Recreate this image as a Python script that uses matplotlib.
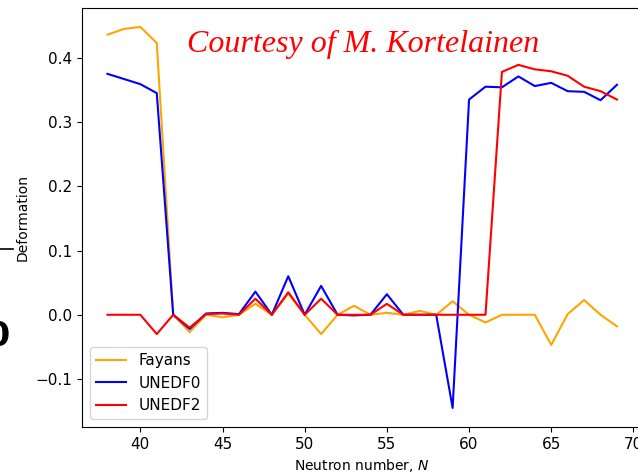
import matplotlib
matplotlib.use('Agg')
import matplotlib.pyplot as plt

# Quadrupole deformation along the isotopic chain
neutrons = list(range(38, 70))

fayans = [0.436, 0.445, 0.448, 0.423, 0.0, -0.027, 0.0, -0.004, 0.0, 0.017,
          0.0, 0.033, 0.0, -0.030, 0.0, 0.014, 0.0, 0.003, 0.0, 0.006,
          0.0, 0.021, 0.0, -0.012, 0.0, 0.0, 0.0, -0.047, 0.001, 0.023,
          0.0, -0.018]

unedf0 = [0.375, 0.367, 0.359, 0.345, 0.0, -0.022, 0.002, 0.003, 0.001, 0.036,
          0.0, 0.060, 0.0, 0.045, 0.0, -0.001, 0.0, 0.032, 0.0, 0.0,
          0.0, -0.145, 0.335, 0.355, 0.354, 0.371, 0.356, 0.361, 0.348, 0.347,
          0.334, 0.358]

unedf2 = [0.0, 0.0, 0.0, -0.030, 0.0, -0.020, 0.001, 0.002, 0.0, 0.025,
          0.0, 0.035, 0.0, 0.025, 0.0, 0.0, 0.0, 0.017, 0.0, 0.0,
          0.0, 0.0, 0.0, 0.0, 0.378, 0.389, 0.382, 0.379, 0.372, 0.355,
          0.348, 0.335]

fig = plt.figure(figsize=(6.38, 4.73), dpi=100)
ax = fig.add_axes([0.1285, 0.0973, 0.8785, 0.886])

ax.plot(neutrons, fayans, color='orange', lw=1.5, label='Fayans')
ax.plot(neutrons, unedf0, color='blue', lw=1.5, label='UNEDF0')
ax.plot(neutrons, unedf2, color='red', lw=1.5, label='UNEDF2')

ax.set_xticks([40, 45, 50, 55, 60, 65, 70])
ax.set_yticks([-0.1, 0.0, 0.1, 0.2, 0.3, 0.4])
ax.tick_params(labelsize=11)
ax.set_xlabel('Neutron number, $N$', fontsize=10)
ax.set_ylabel('Deformation', fontsize=10)
ax.legend(loc='lower left', fontsize=11)

ax.text(0.187, 0.913, 'Courtesy of M. Kortelainen', transform=ax.transAxes,
        color='red', fontsize=23, fontstyle='italic', family='Liberation Serif',
        va='center', ha='left')

# leftovers from the slide behind the plot
fig.text(-0.022, 0.288, '0', fontsize=24, fontweight='bold', ha='left', va='center')
fig.add_artist(plt.Line2D([0.0, 0.021], [0.473, 0.473], color='black', lw=1.2,
                          transform=fig.transFigure))

fig.savefig('out.png', dpi=100)
